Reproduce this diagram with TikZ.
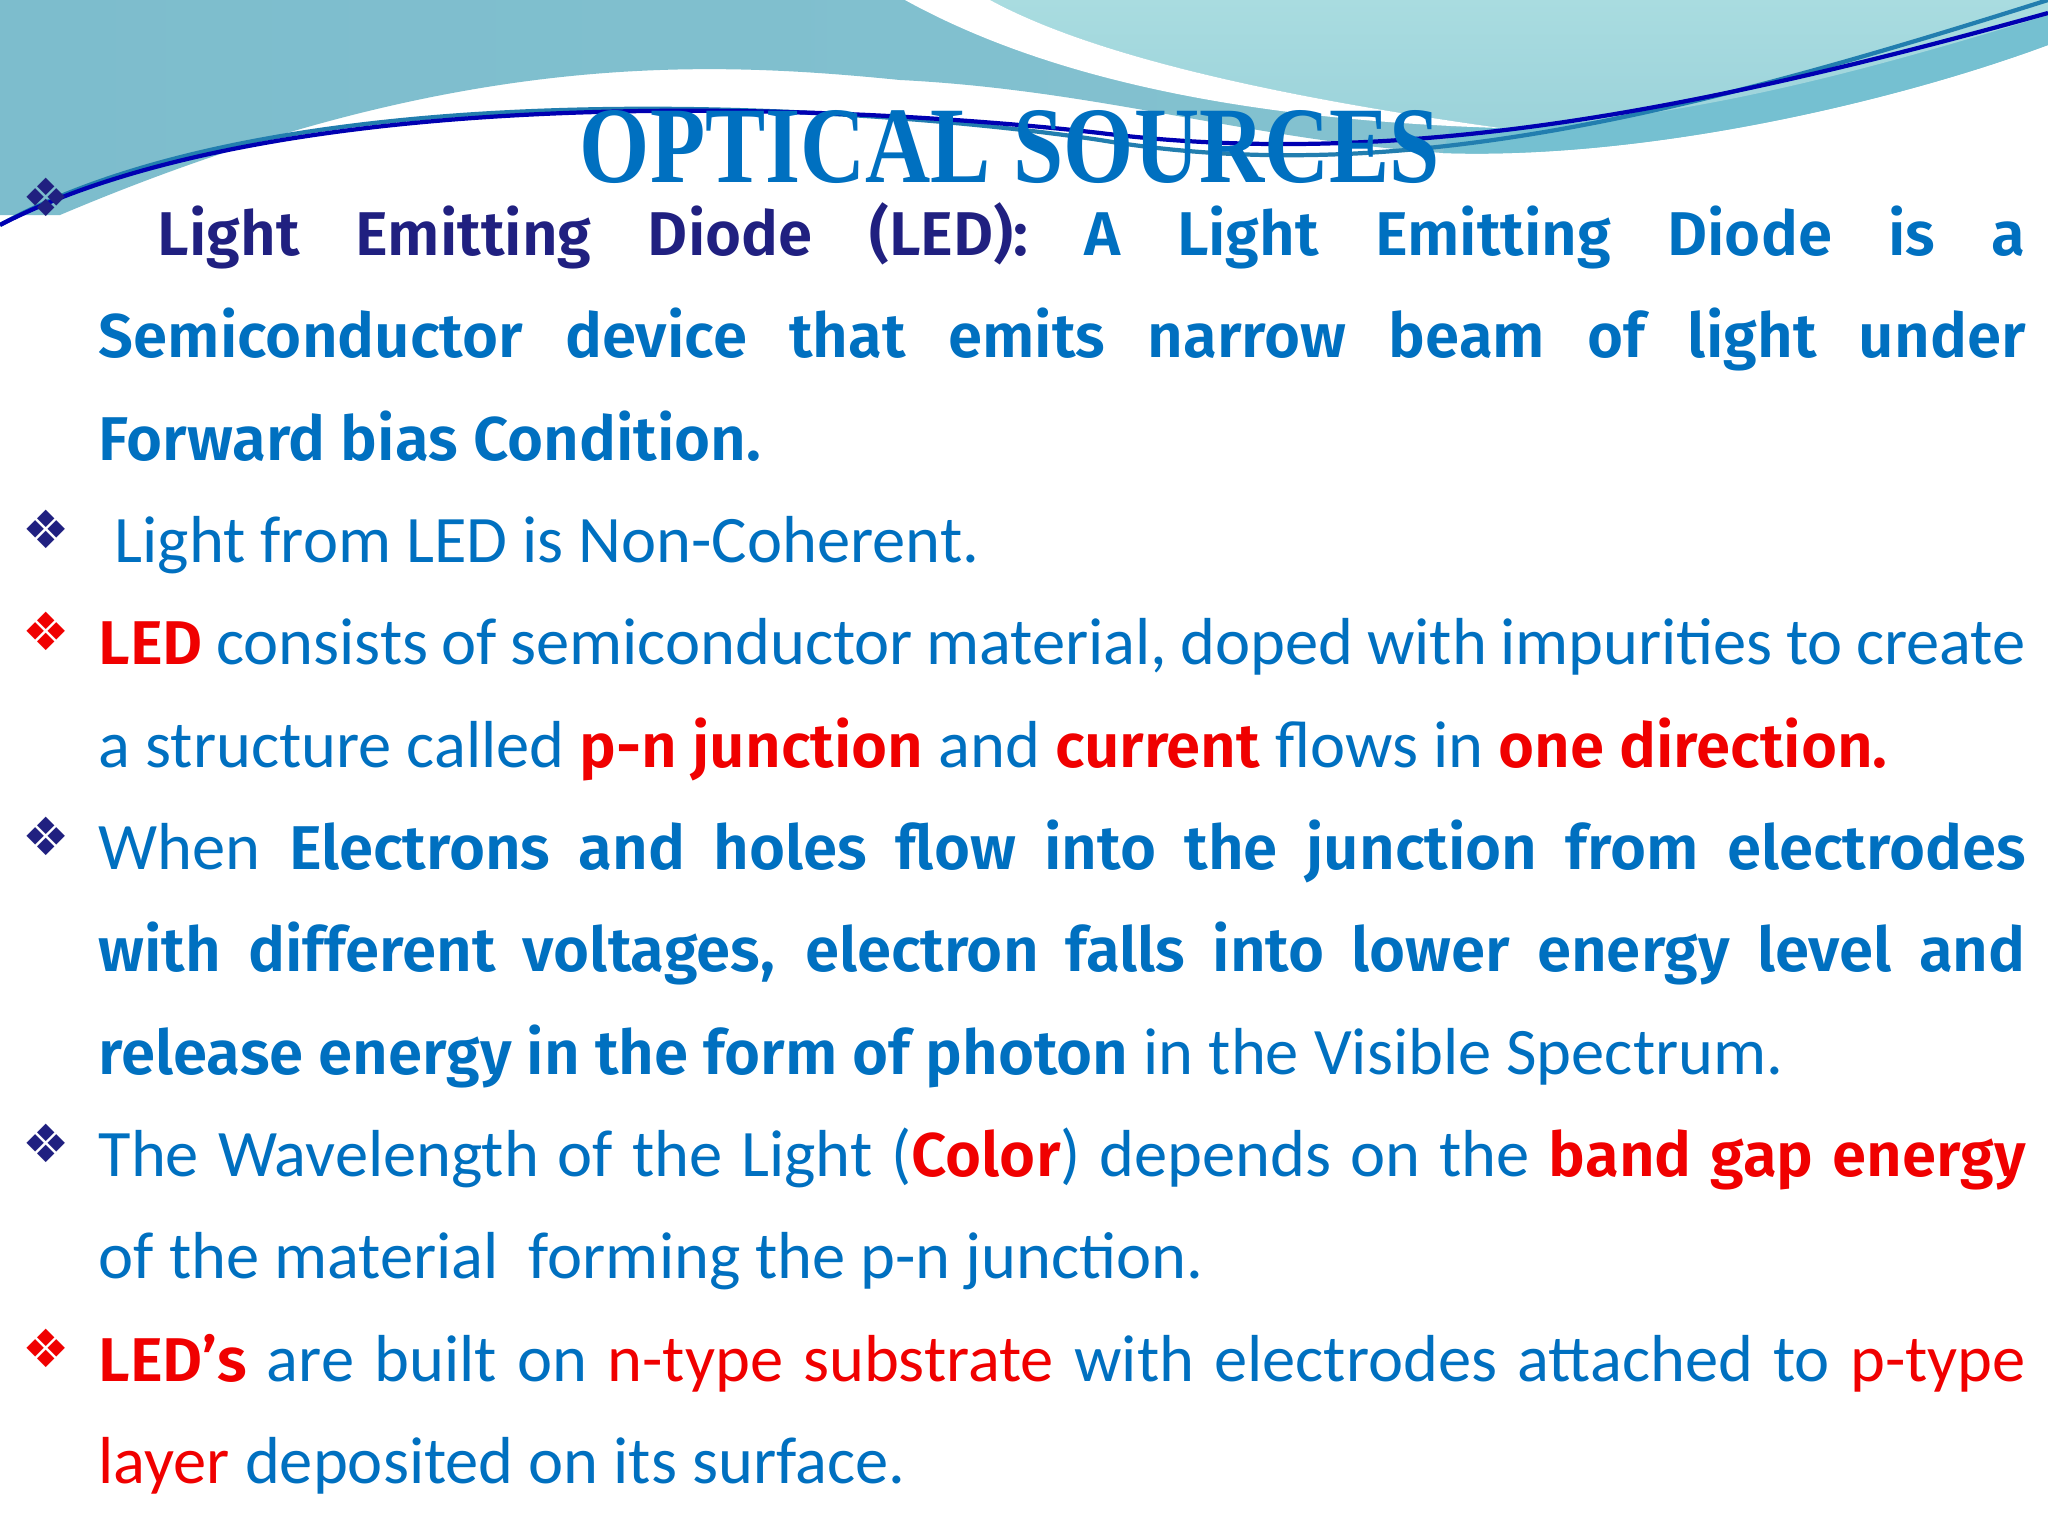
\documentclass[tikz,border=0pt]{standalone}
\usepackage{fontspec}
\setmainfont{Carlito}
\newfontfamily\bfnt{Fira Sans SemiBold}[Scale=0.93]
\newfontfamily\symf{DejaVu Sans}
\usepackage{graphicx}
\definecolor{tblue}{HTML}{0070C0}
\definecolor{tnavy}{HTML}{202080}
\definecolor{tred}{HTML}{F00000}
\definecolor{teal1}{HTML}{7DBDCD}
\definecolor{teal2}{HTML}{A9DCE0}
\definecolor{teal3}{HTML}{5FB4CB}
\newcommand{\Bb}[1]{{\bfnt #1}}
\newcommand{\Rb}[1]{{\bfnt\color{tred}#1}}
\newcommand{\Rr}[1]{{\color{tred}#1}}
\begin{document}
\begin{tikzpicture}[x=0.01cm,y=-0.01cm,
  txt/.style={anchor=base west,inner sep=0pt,font=\fontsize{18.9}{22}\selectfont,text=tblue},
  bul/.style={anchor=base,inner sep=0pt,font=\symf\fontsize{15}{18}\selectfont,text=tnavy}]
\useasboundingbox (0,0) rectangle (2048,1536);
\fill[white] (0,0) rectangle (2048,1536);
% header
\shade[left color=teal1,right color=teal1!80!teal2] (0,0) -- (2048,0) -- (2048,45)
  .. controls (1900,100) and (1650,160) .. (1443,153)
  .. controls (1250,140) and (1100,90) .. (900,80)
  .. controls (700,60) and (450,50) .. (60,215) -- (0,215) -- cycle;
\fill[teal3!70!teal2] (1450,128) .. controls (1700,120) and (1900,60) .. (2048,15)
  -- (2048,45) .. controls (1900,100) and (1650,160) .. (1443,153) -- cycle;
\shade[top color=teal2,bottom color=teal2!70!teal1] (990,0) -- (2048,0) -- (2048,15)
  .. controls (1900,60) and (1700,120) .. (1500,128)
  .. controls (1300,100) and (1100,60) .. (990,0) -- cycle;
\fill[white] (905,0) .. controls (1050,80) and (1250,120) .. (1500,128)
  .. controls (1300,100) and (1100,60) .. (990,0) -- cycle;
\coordinate (la) at (0,225); \coordinate (lb) at (2048,0); \coordinate (lc) at (2048,13);
\draw[teal3!60!green!60!blue,line width=1.2pt] (la) .. controls (300,60) and (900,110) .. (1100,140)
  .. controls (1400,190) and (1700,110) .. (lb);
\draw[blue!70!black,line width=1.2pt] (la) .. controls (300,70) and (900,110) .. (1100,133)
  .. controls (1400,170) and (1700,110) .. (lc);
\node[inner sep=0pt,anchor=base,text=tblue] (title) at (1010,182)
  {\resizebox{8.6cm}{0.72cm}{\fontspec{Liberation Serif}\bfseries OPTICAL SOURCES}};
% bullets
\node[bul] (b1) at (46,216) {❖};
\node[bul] (b2) at (46,548) {❖};
\node[bul,text=tred] (b3) at (46,650) {❖};
\node[bul] (b4) at (46,855) {❖};
\node[bul] (b5) at (46,1162) {❖};
\node[bul,text=tred] (b6) at (46,1367) {❖};
% lines
\node[txt] (l1) at (157,255) {\makebox[18.67cm][s]{\Bb{\color{tnavy}Light Emitting Diode (LED):} \Bb{A Light Emitting Diode is a}}};
\node[txt] (l2) at (98,357) {\makebox[19.26cm][s]{\Bb{Semiconductor device that emits narrow beam of light under}}};
\node[txt] (l3) at (98,460) {\Bb{Forward bias Condition.}};
\node[txt] (l4) at (114,562) {Light from LED is Non-Coherent.};
\node[txt] (l5) at (98,664) {\makebox[19.26cm][s]{\Rb{LED} consists of semiconductor material, doped with impurities to create}};
\node[txt] (l6) at (98,767) {a structure called \Rb{p-n junction} and \Rb{current} flows in \Rb{one direction.}};
\node[txt] (l7) at (98,869) {\makebox[19.26cm][s]{When \Bb{Electrons and holes flow into the junction from electrodes}}};
\node[txt] (l8) at (98,971) {\makebox[19.26cm][s]{\Bb{with different voltages, electron falls into lower energy level and}}};
\node[txt] (l9) at (98,1074) {\Bb{release energy in the form of photon} in the Visible Spectrum.};
\node[txt] (l10) at (98,1176) {\makebox[19.26cm][s]{The Wavelength of the Light (\Rb{Color}) depends on the \Rb{band gap energy}}};
\node[txt] (l11) at (98,1278) {of the material\ \ forming the p-n junction.};
\node[txt] (l12) at (98,1381) {\makebox[19.26cm][s]{\Rb{LED’s} are built on \Rr{n-type substrate} with electrodes attached to \Rr{p-type}}};
\node[txt] (l13) at (98,1483) {\Rr{layer} deposited on its surface.};
\end{tikzpicture}
\end{document}
